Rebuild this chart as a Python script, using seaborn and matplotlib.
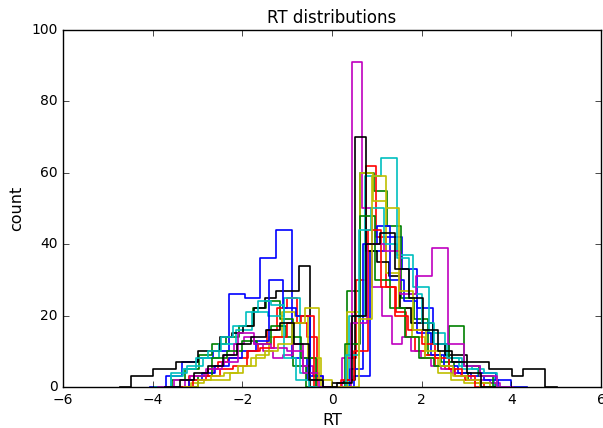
import numpy as np
import pandas as pd
import seaborn as sns
from matplotlib import pyplot as plt

# step histograms of signed RT, one per subject: (left edge, bin width, counts)
colors = ["b", "g", "r", "c", "m", "y", "k", "b", "g", "r", "c", "m", "y", "k"]
lefts = [-3.7, -3.57, -3.2, -3.59, -3.29, -3.14, -4.49, -3.2, -3.0, -3.1, -3.6, -3.53, -3.0, -3.4]
widths = [0.35, 0.3, 0.22, 0.36, 0.22, 0.29, 0.25, 0.3, 0.33, 0.3, 0.28, 0.36, 0.3, 0.32]
counts = [
    [3, 7, 8, 10, 26, 25, 36, 44, 8, 2, 0, 0, 3, 38, 42, 33, 22, 12, 7, 6, 4, 2],
    [2, 5, 9, 12, 14, 17, 22, 24, 19, 6, 0, 0, 0, 27, 60, 55, 45, 25, 19, 9, 7, 4, 2, 1],
    [3, 3, 5, 7, 8, 8, 10, 12, 16, 22, 25, 18, 14, 0, 0, 0, 8, 30, 62, 42, 28, 21, 14, 10, 9, 6, 5, 3, 2, 1],
    [4, 6, 8, 12, 16, 21, 20, 25, 4, 0, 0, 20, 59, 64, 37, 28, 15, 8, 5, 3],
    [2, 3, 4, 6, 9, 12, 14, 12, 10, 8, 9, 12, 6, 3, 0, 0, 8, 91, 50, 28, 20, 12, 14, 10, 8, 6, 5, 4, 3, 2, 2, 1],
    [1, 2, 2, 4, 6, 9, 14, 21, 20, 8, 0, 0, 21, 60, 52, 32, 22, 14, 8, 4, 2, 1, 1],
    [3, 3, 5, 5, 7, 7, 10, 10, 14, 15, 17, 22, 25, 27, 27, 34, 0, 0, 1, 2, 70, 38, 35, 31, 22, 18, 18, 12, 9, 9, 7, 7, 5, 5, 3, 5, 5],
    [2, 4, 6, 8, 10, 13, 30, 22, 20, 3, 0, 0, 5, 40, 45, 30, 24, 15, 9, 6, 4, 3, 2],
    [3, 8, 10, 13, 12, 17, 14, 8, 0, 0, 12, 48, 30, 22, 14, 8, 6, 17, 6, 3],
    [2, 3, 5, 6, 10, 11, 14, 18, 20, 0, 0, 2, 10, 44, 28, 20, 16, 12, 8, 5, 3],
    [3, 5, 8, 10, 14, 17, 21, 24, 23, 8, 2, 0, 0, 0, 9, 44, 50, 40, 36, 26, 18, 12, 8, 6, 5, 4],
    [2, 3, 5, 7, 15, 12, 11, 10, 4, 0, 0, 18, 40, 38, 26, 31, 39, 12, 6, 3],
    [2, 3, 4, 6, 8, 10, 12, 18, 22, 2, 0, 0, 19, 59, 50, 27, 16, 10, 6, 3, 2],
    [2, 4, 6, 9, 12, 14, 16, 18, 12, 2, 0, 1, 20, 40, 43, 33, 25, 16, 10, 7, 4],
]

plt.style.use("classic")
plt.rcParams["font.size"] = 10
fig, ax = plt.subplots(figsize=(6.03, 4.28), dpi=100)
fig.patch.set_facecolor("white")
fig.subplots_adjust(left=0.1045, right=0.9967, top=0.930, bottom=0.0958)

for c, lo, w, n in zip(colors, lefts, widths, counts):
    # pad with an empty bin each side so the outline drops to zero at the ends
    h = np.concatenate([[0], n, [0]])
    edges = lo - w + w * np.arange(len(h) + 1)
    df = pd.DataFrame({"RT": (edges[:-1] + edges[1:]) / 2, "count": h})
    sns.histplot(data=df, x="RT", weights="count", bins=edges.tolist(),
                 element="step", fill=False, color=c, linewidth=1.2, ax=ax)

ax.set_xlim(-6, 6)
ax.set_ylim(0, 100)
ax.set_title("RT distributions", fontsize=12)
ax.set_xlabel("RT", fontsize=11.5)
ax.set_ylabel("count", fontsize=11.5)
plt.savefig("out.png", dpi=100, facecolor="white")
